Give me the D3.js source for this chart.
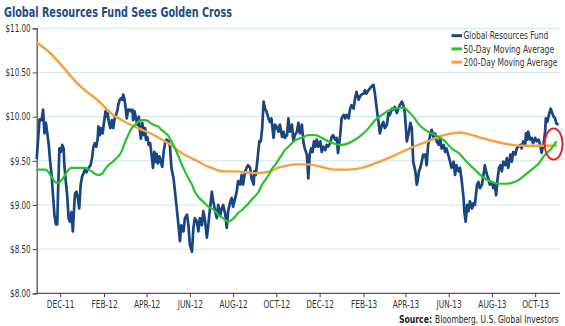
<!DOCTYPE html>
<html><head><meta charset="utf-8">
<script src="https://cdn.jsdelivr.net/npm/d3@7"></script>
<style>
html,body{margin:0;padding:0;background:#fff;}
svg{display:block;}
text{font-family:'Liberation Sans Narrow','Arial Narrow','DejaVu Sans Condensed','Liberation Sans',Arial,sans-serif;}
</style></head><body>
<svg id="chart" width="565" height="326"></svg>
<script>
const titleText = "Global Resources Fund Sees Golden Cross";
const sourceLabel = "Source:";
const sourceText = "Bloomberg, U.S. Global Investors";
const startDate = "2011-10-29";
const endDate = "2013-11-05";
const yTicks = [8, 8.5, 9, 9.5, 10, 10.5, 11];
const xTickDates = ["2011-12-01","2012-02-01","2012-04-01","2012-06-01","2012-08-01","2012-10-01","2012-12-01","2013-02-01","2013-04-01","2013-06-01","2013-08-01","2013-10-01"];
const xTickLabels = ["DEC-11","FEB-12","APR-12","JUN-12","AUG-12","OCT-12","DEC-12","FEB-13","APR-13","JUN-13","AUG-13","OCT-13"];
const seriesNames = ["Global Resources Fund","50-Day Moving Average","200-Day Moving Average"];
const seriesColors = ["#1a4680","#2cc12c","#f7a13e"];

// [days after startDate, price]
const fundSeries = [[0,9.52],[4,9.97],[7,9.96],[9,10.08],[11,9.81],[13,9.93],[15,9.81],[17,9.68],[19,9.49],[21,9.34],[23,9.11],[25,8.89],[27,8.78],[29,8.78],[30,9.11],[32,9.64],[34,9.60],[36,9.68],[38,9.64],[39,9.45],[41,9.27],[43,9.11],[45,8.85],[47,8.81],[49,8.92],[51,8.70],[53,9.00],[54,9.13],[56,9.15],[58,9.08],[60,8.96],[62,9.23],[64,9.32],[66,9.36],[68,9.40],[70,9.37],[72,9.40],[74,9.43],[76,9.45],[78,9.53],[80,9.66],[82,9.70],[84,9.66],[86,9.75],[87,9.89],[89,9.79],[91,9.87],[93,9.81],[95,9.94],[97,10.06],[99,10.00],[100,10.04],[102,9.93],[104,9.87],[106,9.96],[108,9.87],[110,9.98],[112,10.02],[114,10.08],[115,10.13],[117,10.19],[119,10.21],[121,10.19],[122,10.25],[124,10.19],[126,10.06],[127,9.98],[129,10.08],[131,10.08],[133,10.06],[135,10.08],[136,9.96],[138,10.06],[140,9.98],[142,9.91],[144,10.00],[145,9.87],[147,9.75],[149,9.93],[151,9.79],[153,9.87],[154,9.74],[156,9.77],[158,9.68],[160,9.70],[162,9.57],[164,9.42],[166,9.60],[168,9.49],[169,9.58],[171,9.47],[173,9.55],[175,9.49],[177,9.43],[179,9.60],[181,9.70],[183,9.74],[186,9.72],[188,9.66],[190,9.42],[193,9.30],[195,9.15],[197,9.00],[200,8.77],[202,8.59],[204,8.77],[207,8.70],[209,8.85],[212,8.89],[214,8.77],[216,8.55],[219,8.47],[221,8.74],[223,8.85],[226,8.81],[228,8.70],[230,8.85],[233,8.77],[235,8.93],[237,8.85],[240,8.63],[242,8.77],[244,8.93],[247,9.15],[249,9.04],[251,8.96],[254,8.85],[256,9.00],[259,8.89],[261,8.96],[263,9.00],[266,8.89],[268,8.74],[270,8.93],[273,9.04],[275,9.08],[277,8.98],[280,9.08],[282,9.15],[284,9.27],[287,9.23],[289,9.34],[291,9.23],[294,9.38],[296,9.42],[298,9.45],[301,9.42],[303,9.30],[306,9.23],[307,9.38],[309,9.34],[311,9.49],[313,9.64],[314,9.72],[316,9.72],[318,9.87],[320,10.17],[322,10.09],[324,10.06],[327,9.98],[329,9.94],[331,9.98],[334,9.76],[336,9.91],[338,9.89],[341,9.83],[343,9.91],[346,9.77],[348,9.83],[350,9.76],[353,9.79],[355,9.98],[357,9.83],[360,9.91],[362,9.72],[364,9.79],[367,9.83],[369,9.93],[371,9.81],[374,9.91],[376,9.72],[378,9.64],[381,9.57],[383,9.30],[385,9.57],[387,9.64],[389,9.60],[391,9.72],[393,9.66],[395,9.74],[397,9.66],[400,9.72],[402,9.60],[404,9.66],[407,9.62],[409,9.68],[411,9.66],[414,9.70],[416,9.77],[418,9.79],[421,9.74],[423,9.76],[425,9.59],[428,9.79],[430,9.98],[433,10.02],[435,9.98],[437,10.02],[440,9.98],[442,10.09],[444,10.13],[447,10.09],[449,10.21],[451,10.28],[454,10.19],[456,10.23],[458,10.25],[461,10.26],[463,10.30],[465,10.26],[468,10.30],[470,10.32],[472,10.34],[475,10.36],[477,10.26],[480,10.06],[482,9.94],[484,9.81],[487,9.91],[489,9.94],[491,9.87],[494,9.91],[496,10.04],[498,10.02],[501,10.09],[503,10.08],[505,10.11],[508,10.04],[510,10.09],[512,10.13],[515,10.17],[517,10.13],[519,10.06],[522,9.72],[524,9.79],[527,9.93],[529,9.87],[531,9.49],[534,9.38],[536,9.23],[537,9.26],[539,9.38],[541,9.42],[543,9.49],[545,9.57],[548,9.57],[550,9.45],[552,9.68],[555,9.79],[557,9.85],[560,9.76],[562,9.81],[564,9.72],[567,9.68],[569,9.76],[571,9.64],[574,9.68],[576,9.60],[578,9.64],[581,9.55],[583,9.49],[585,9.42],[588,9.49],[590,9.34],[592,9.45],[595,9.38],[597,9.42],[599,9.30],[602,9.08],[603,8.93],[605,8.81],[607,9.00],[609,8.93],[611,9.04],[614,8.96],[616,9.02],[618,9.00],[621,9.23],[623,9.26],[625,9.19],[628,9.23],[630,9.34],[632,9.45],[635,9.34],[637,9.30],[639,9.23],[642,9.26],[644,9.19],[646,9.23],[648,9.11],[650,9.30],[652,9.42],[654,9.45],[656,9.38],[658,9.49],[661,9.45],[663,9.53],[665,9.42],[668,9.57],[670,9.49],[672,9.60],[675,9.57],[677,9.64],[679,9.66],[682,9.68],[684,9.64],[686,9.72],[689,9.68],[690,9.81],[692,9.74],[693,9.83],[696,9.74],[698,9.76],[700,9.70],[703,9.76],[705,9.72],[708,9.74],[710,9.68],[712,9.59],[715,9.70],[717,9.83],[718,9.98],[720,9.94],[723,10.04],[725,10.09],[726,10.06],[729,10.00],[731,9.98],[733,9.92],[736,9.91]];

const ma50Series = [[0,9.40],[7,9.40],[12,9.40],[16,9.38],[21,9.32],[26,9.26],[30,9.25],[35,9.28],[40,9.34],[45,9.40],[49,9.42],[59,9.42],[68,9.42],[73,9.40],[78,9.38],[82,9.35],[87,9.34],[92,9.35],[96,9.40],[101,9.45],[106,9.48],[110,9.51],[115,9.55],[120,9.61],[124,9.70],[129,9.79],[134,9.87],[139,9.91],[143,9.94],[148,9.96],[153,9.96],[157,9.95],[162,9.92],[167,9.90],[171,9.89],[176,9.85],[181,9.82],[185,9.79],[190,9.72],[195,9.64],[200,9.55],[205,9.45],[209,9.38],[214,9.30],[219,9.23],[223,9.15],[228,9.09],[233,9.05],[237,9.02],[242,8.98],[247,8.96],[252,8.93],[256,8.89],[261,8.86],[266,8.83],[270,8.81],[275,8.83],[280,8.87],[284,8.91],[289,8.94],[294,8.98],[299,9.02],[303,9.06],[308,9.10],[313,9.15],[317,9.22],[322,9.28],[327,9.34],[331,9.40],[336,9.45],[341,9.51],[346,9.57],[350,9.62],[355,9.66],[360,9.70],[364,9.73],[374,9.76],[383,9.79],[393,9.79],[402,9.76],[411,9.72],[421,9.69],[430,9.68],[440,9.70],[449,9.74],[458,9.79],[468,9.87],[477,9.96],[487,10.02],[496,10.07],[505,10.09],[515,10.10],[519,10.10],[524,10.06],[529,10.02],[534,9.97],[538,9.92],[543,9.88],[548,9.85],[557,9.81],[567,9.77],[576,9.72],[585,9.64],[595,9.59],[604,9.51],[614,9.43],[623,9.36],[632,9.30],[642,9.26],[651,9.24],[661,9.24],[670,9.25],[679,9.28],[689,9.34],[698,9.40],[708,9.47],[717,9.57],[726,9.64],[733,9.72]];

const ma200Series = [[0,10.84],[19,10.72],[33,10.60],[47,10.47],[58,10.37],[71,10.28],[87,10.18],[106,10.03],[125,9.94],[143,9.87],[163,9.80],[181,9.72],[191,9.67],[202,9.60],[216,9.54],[228,9.49],[237,9.45],[247,9.42],[256,9.39],[266,9.38],[284,9.38],[294,9.37],[308,9.36],[322,9.37],[332,9.39],[340,9.42],[350,9.44],[364,9.46],[383,9.46],[402,9.43],[421,9.40],[439,9.40],[459,9.42],[477,9.47],[496,9.53],[515,9.60],[534,9.67],[552,9.72],[566,9.77],[586,9.81],[597,9.82],[614,9.79],[632,9.75],[651,9.71],[670,9.68],[689,9.67],[710,9.67],[734,9.67]];

const crossPoint = [729, 9.69];

const svg = d3.select("#chart");
const W = 565, H = 326;
const margin = {left: 36.7, right: 5, top: 28.3, bottom: 32.7};
const parse = d3.utcParse("%Y-%m-%d");
const t0 = parse(startDate);
const toDate = d => d3.utcDay.offset(t0, d);

const x = d3.scaleUtc().domain([t0, parse(endDate)]).range([margin.left, W - margin.right]);
const y = d3.scaleLinear().domain([8, 11]).range([H - margin.bottom, margin.top]);

// squeeze axis text horizontally to mimic the condensed face
function condense(sel, ratio) {
  sel.each(function() {
    const len = this.getComputedTextLength();
    if (len > 0) d3.select(this).attr("textLength", len * ratio).attr("lengthAdjust", "spacingAndGlyphs");
  });
}
// place a text so it occupies a given width (scaled horizontally with a transform)
function fitText(parent, str, x0, yb, width, attrs) {
  const g = parent.append("g");
  const t = g.append("text").attr("x", 0).attr("y", 0).text(str);
  Object.entries(attrs).forEach(([k, v]) => t.attr(k, v));
  const len = t.node().getComputedTextLength();
  const k = width / len;
  g.attr("transform", `translate(${x0},${yb}) scale(${k},1)`);
  return t;
}

svg.append("rect").attr("width", W).attr("height", H).attr("fill", "#fff");

// title
fitText(svg, titleText, 4, 16.5, 228, {"font-size": 14, "font-weight": "bold", "fill": "#1d4d86"});

// gridlines
svg.append("g").selectAll("line").data(yTicks.filter(v => v > 8)).join("line")
  .attr("x1", x.range()[0]).attr("x2", x.range()[1])
  .attr("y1", d => y(d)).attr("y2", d => y(d))
  .attr("stroke", "#cde5ef").attr("stroke-width", 1);

// y axis
const yAxis = d3.axisLeft(y).tickValues(yTicks).tickSize(4).tickPadding(2)
  .tickFormat(d => "$" + d3.format(".2f")(d));
const gy = svg.append("g").attr("transform", `translate(${margin.left},0)`).call(yAxis);
gy.select(".domain").attr("stroke", "#444").attr("stroke-width", 1.2);
gy.selectAll(".tick line").attr("stroke", "#444");
gy.selectAll("text").attr("font-size", 10).attr("fill", "#333").attr("font-family", null);
condense(gy.selectAll("text"), 0.8);

// x axis
const xAxis = d3.axisBottom(x).tickValues(xTickDates.map(parse)).tickSize(4).tickPadding(4)
  .tickFormat((d, i) => xTickLabels[i]);
const gx = svg.append("g").attr("transform", `translate(0,${y(8)})`).call(xAxis);
gx.select(".domain").attr("stroke", "#555").attr("stroke-width", 1.3).attr("d", `M${x.range()[0]},0H${x.range()[1]}`);
gx.selectAll(".tick line").attr("stroke", "#444");
gx.selectAll("text").attr("font-size", 10).attr("fill", "#333").attr("font-family", null);
condense(gx.selectAll("text"), 0.82);

// lines
const line = d3.line().x(d => x(toDate(d[0]))).y(d => y(d[1]));
const smooth = d3.line().x(d => x(toDate(d[0]))).y(d => y(d[1])).curve(d3.curveMonotoneX);

svg.append("path").datum(fundSeries).attr("d", line)
  .attr("fill", "none").attr("stroke", seriesColors[0]).attr("stroke-width", 2.7).attr("stroke-linejoin", "round");
svg.append("path").datum(ma200Series).attr("d", smooth)
  .attr("fill", "none").attr("stroke", seriesColors[2]).attr("stroke-width", 2.4);
svg.append("path").datum(ma50Series).attr("d", smooth)
  .attr("fill", "none").attr("stroke", seriesColors[1]).attr("stroke-width", 2.2);

// golden cross marker
svg.append("ellipse").attr("cx", x(toDate(crossPoint[0]))).attr("cy", y(crossPoint[1]))
  .attr("rx", 9).attr("ry", 15.5).attr("fill", "none").attr("stroke", "#e3262b").attr("stroke-width", 2);

// legend
const legendW = [85, 90.7, 94];
const lg = svg.append("g").attr("transform", "translate(451.5,35.7)");
seriesNames.forEach((n, i) => {
  const g = lg.append("g").attr("transform", `translate(0,${i * 13.2})`);
  g.append("line").attr("x1", 0).attr("x2", 10.5).attr("stroke", seriesColors[i]).attr("stroke-width", 3);
  fitText(g, n, 12, 3.6, legendW[i], {"font-size": 10, "fill": "#333"});
});

// source
fitText(svg, sourceLabel, 399, 323, 33, {"font-size": 10.5, "font-weight": "bold", "fill": "#222"});
fitText(svg, sourceText, 435, 323, 124, {"font-size": 10.5, "fill": "#222"});
</script>
</body></html>
